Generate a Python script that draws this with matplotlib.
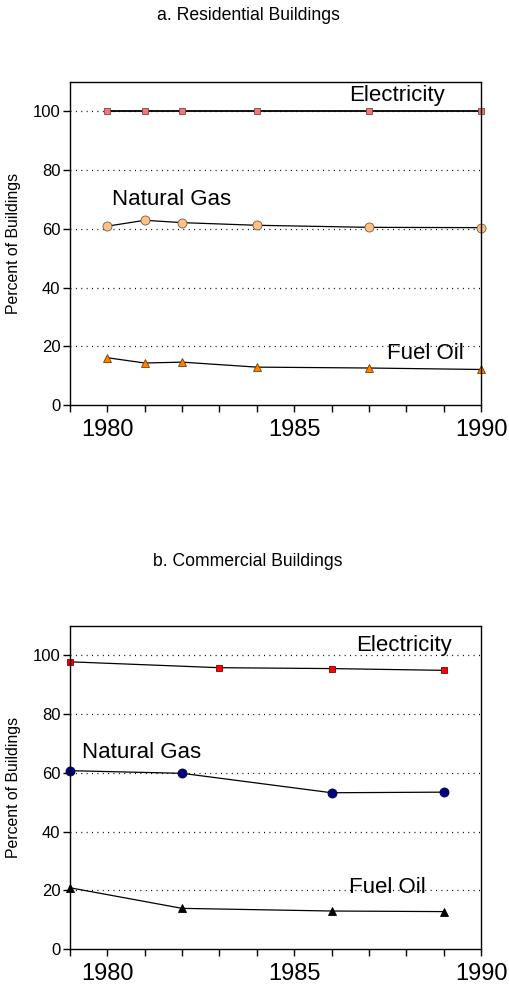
import matplotlib
matplotlib.use("Agg")
import matplotlib.pyplot as plt
from matplotlib.ticker import MultipleLocator

plt.rcParams['font.family'] = ['Liberation Sans', 'DejaVu Sans']

# a. Residential buildings
res_years = [1980, 1981, 1982, 1984, 1987, 1990]
res_electricity = [100, 100, 100, 100, 100, 100]
res_natural_gas = [60.9, 62.9, 62.1, 61.2, 60.5, 60.4]
res_fuel_oil = [16.1, 14.3, 14.6, 12.9, 12.6, 12.1]

# b. Commercial buildings
com_elec_years = [1979, 1983, 1986, 1989]
com_electricity = [97.7, 95.7, 95.4, 94.8]
com_years = [1979, 1982, 1986, 1989]
com_natural_gas = [60.7, 59.8, 53.2, 53.4]
com_fuel_oil = [20.9, 13.9, 13.0, 12.8]

year_labels = [1980, 1985, 1990]
y_ticks = [0, 20, 40, 60, 80, 100]


def style_axes(ax):
    ax.set_xlim(1979, 1990)
    ax.set_ylim(0, 110)
    ax.set_xticks(range(1979, 1991))
    ax.set_xticklabels([str(y) if y in year_labels else '' for y in range(1979, 1991)],
                       fontsize=17)
    ax.set_yticks(y_ticks)
    ax.tick_params(axis='y', labelsize=12, length=5, width=1, direction='out', pad=2)
    ax.tick_params(axis='x', length=5, width=1, direction='out', pad=5)
    for y in y_ticks[1:]:
        ax.axhline(y, color='black', lw=0.9, linestyle=(0, (0.8, 3.5)), zorder=0)
    for s in ax.spines.values():
        s.set_linewidth(1)
    ax.set_ylabel('Percent of Buildings', fontsize=11.4, labelpad=8)


fig = plt.figure(figsize=(5.1, 9.84), dpi=100)

ax1 = fig.add_axes([0.1373, 0.5884, 0.8059, 0.3283])
style_axes(ax1)
ax1.plot(res_years, res_electricity, color='black', lw=1.3, marker='s', markersize=4,
         markerfacecolor='#F07878', markeredgecolor='#8a4040', markeredgewidth=0.6, clip_on=False)
ax1.plot(res_years, res_natural_gas, color='black', lw=0.9, marker='o', markersize=6.5,
         markerfacecolor='#FDC08A', markeredgecolor='#7a5a3a', markeredgewidth=0.6, clip_on=False)
ax1.plot(res_years, res_fuel_oil, color='black', lw=0.9, marker='^', markersize=6,
         markerfacecolor='#FF8000', markeredgecolor='#7a4000', markeredgewidth=0.6, clip_on=False)
ax1.text(1987.74, 105.3, 'Electricity', fontsize=16, ha='center', va='center')
ax1.text(1980.12, 69.9, 'Natural Gas', fontsize=16, ha='left', va='center')
ax1.text(1987.48, 17.6, 'Fuel Oil', fontsize=16, ha='left', va='center')

ax2 = fig.add_axes([0.1373, 0.0353, 0.8059, 0.3289])
style_axes(ax2)
ax2.plot(com_elec_years, com_electricity, color='black', lw=0.9, marker='s', markersize=4.5,
         markerfacecolor='#FF0000', markeredgecolor='#800000', markeredgewidth=0.6, clip_on=False)
ax2.plot(com_years, com_natural_gas, color='black', lw=0.9, marker='o', markersize=6.5,
         markerfacecolor='#000080', markeredgecolor='#000040', markeredgewidth=0.6, clip_on=False)
ax2.plot(com_years, com_fuel_oil, color='black', lw=0.9, marker='^', markersize=6,
         markerfacecolor='black', markeredgecolor='black', markeredgewidth=0.6, clip_on=False)
ax2.text(1986.67, 103.2, 'Electricity', fontsize=16, ha='left', va='center')
ax2.text(1979.32, 66.8, 'Natural Gas', fontsize=16, ha='left', va='center')
ax2.text(1986.46, 21.0, 'Fuel Oil', fontsize=16, ha='left', va='center')

fig.text(248 / 510, 1 - 15 / 984, 'a. Residential Buildings', fontsize=12.7,
         ha='center', va='center')
fig.text(248 / 510, 1 - 561.7 / 984, 'b. Commercial Buildings', fontsize=12.7,
         ha='center', va='center')

fig.savefig('out.png', dpi=100)
